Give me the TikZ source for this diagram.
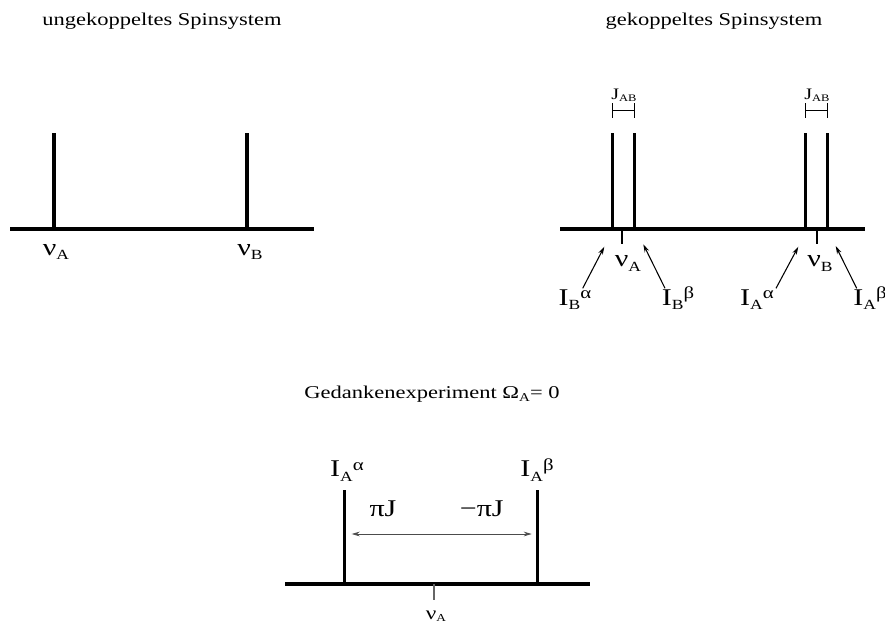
\documentclass[tikz,border=0pt]{standalone}
\usepackage{fontspec}
\setmainfont[FakeStretch=1.25]{Liberation Serif}
\usetikzlibrary{arrows.meta}
\newcommand\subsc[1]{\raisebox{-0.45ex}{\fontsize{10.5}{10.5}\selectfont #1}}
\newcommand\supsc[1]{\raisebox{0.6ex}{\fontsize{12.5}{12.5}\selectfont #1}}
\tikzset{
  axisline/.style={line width=3pt},
  peakline/.style={line width=2.3pt},
  thinline/.style={line width=0.8pt},
  titletext/.style={font=\fontsize{13.5}{16}\selectfont, anchor=base, inner sep=0pt},
  labeltext/.style={font=\fontsize{18}{20}\selectfont, anchor=base, inner sep=0pt},
  smalllabel/.style={font=\fontsize{12}{14}\selectfont, anchor=base, inner sep=0pt},
  ptr/.style={thinline, -{Stealth[length=6pt,width=3.5pt]}},
}
\begin{document}
\begin{tikzpicture}[x=0.75pt,y=-0.75pt]
\useasboundingbox (0,0) rectangle (885,624);
% ---------------- left: uncoupled
\node[titletext] (t1) at (162,26) {ungekoppeltes Spinsystem};
\coordinate (l0) at (10,229);
\coordinate (l1) at (314,229);
\draw[axisline] (l0) -- (l1);
\coordinate (pa) at (54,229);
\coordinate (pat) at (54,133);
\coordinate (pb) at (247,229);
\coordinate (pbt) at (247,133);
\draw[peakline] (pa) -- (pat);
\draw[peakline] (pb) -- (pbt);
\node[labeltext] (nuA1) at (56,255) {ν\subsc{A}};
\node[labeltext] (nuB1) at (250,255) {ν\subsc{B}};
% ---------------- right: coupled
\node[titletext] (t2) at (714,26) {gekoppeltes Spinsystem};
\coordinate (r0) at (560,229);
\coordinate (r1) at (865,229);
\draw[axisline] (r0) -- (r1);
\foreach \x/\n in {612.3/p1,634.3/p2,805.7/p3,827.3/p4}{
  \coordinate (\n b) at (\x,229);
  \coordinate (\n t) at (\x,132.7);
  \draw[peakline] (\n b) -- (\n t);
}
\coordinate (tA) at (622.3,229);
\coordinate (tAe) at (622.3,243.5);
\coordinate (tB) at (816.7,229);
\coordinate (tBe) at (816.7,243.5);
\draw[line width=1.6pt] (tA) -- (tAe);
\draw[line width=1.6pt] (tB) -- (tBe);
% J brackets
\coordinate (j1l) at (612.3,110.5);
\coordinate (j1r) at (634.3,110.5);
\coordinate (j2l) at (805.7,110.5);
\coordinate (j2r) at (827.3,110.5);
\draw[thinline] (j1l) -- (j1r);
\draw[thinline] (j2l) -- (j2r);
\draw[thinline] ([yshift=5.5pt]j1l) -- ([yshift=-5.5pt]j1l);
\draw[thinline] ([yshift=5.5pt]j1r) -- ([yshift=-5.5pt]j1r);
\draw[thinline] ([yshift=5.5pt]j2l) -- ([yshift=-5.5pt]j2l);
\draw[thinline] ([yshift=5.5pt]j2r) -- ([yshift=-5.5pt]j2r);
\node[smalllabel] (J1) at (624,100) {J\raisebox{-0.25ex}{\fontsize{7.5}{8}\selectfont AB}};
\node[smalllabel] (J2) at (817,100) {J\raisebox{-0.25ex}{\fontsize{7.5}{8}\selectfont AB}};
\node[labeltext] (nuA2) at (628,266.5) {ν\subsc{A}};
\node[labeltext] (nuB2) at (820,266.5) {ν\subsc{B}};
% arrows with labels
\node[labeltext] (IBa) at (575,305) {I\subsc{B}\supsc{α}};
\node[labeltext] (IBb) at (678,305) {I\subsc{B}\supsc{β}};
\node[labeltext] (IAa) at (757,305) {I\subsc{A}\supsc{α}};
\node[labeltext] (IAb) at (870,305) {I\subsc{A}\supsc{β}};
\coordinate (aBa0) at (582.7,288.3);
\coordinate (aBa1) at (604.3,246.7);
\coordinate (aBb0) at (665,288.3);
\coordinate (aBb1) at (643.3,244.3);
\coordinate (aAa0) at (776,288.3);
\coordinate (aAa1) at (798.3,246.7);
\coordinate (aAb0) at (856.7,288.3);
\coordinate (aAb1) at (835.7,246);
\draw[ptr] (aBa0) -- (aBa1);
\draw[ptr] (aBb0) -- (aBb1);
\draw[ptr] (aAa0) -- (aAa1);
\draw[ptr] (aAb0) -- (aAb1);
% ---------------- bottom: thought experiment
\node[titletext] (t3) at (432,398) {Gedankenexperiment Ω\raisebox{-0.4ex}{\fontsize{9}{9}\selectfont A}= 0};
\coordinate (b0) at (285,584.3);
\coordinate (b1) at (590,584.3);
\draw[axisline] (b0) -- (b1);
\coordinate (q1b) at (344.3,584.3);
\coordinate (q1t) at (344.3,490);
\coordinate (q2b) at (537.7,584.3);
\coordinate (q2t) at (537.7,490);
\draw[peakline] (q1b) -- (q1t);
\draw[peakline] (q2b) -- (q2t);
\coordinate (tc) at (434,584.3);
\coordinate (tce) at (434,600);
\draw[line width=0.9pt, black!60] (tc) -- (tce);
\coordinate (dl) at (351.7,534);
\coordinate (dr) at (531.7,534);
\draw[line width=0.6pt, black!70, {Stealth[length=6pt,width=3.5pt]}-{Stealth[length=6pt,width=3.5pt]}] (dl) -- (dr);
\node[labeltext] (piJ) at (383,516.7) {πJ};
\node[labeltext] (mpiJ) at (481.7,516.7) {−πJ};
\node[labeltext] (IAa3) at (347,476.7) {I\subsc{A}\supsc{α}};
\node[labeltext] (IAb3) at (537,476.7) {I\subsc{A}\supsc{β}};
\node[font=\fontsize{14}{16}\selectfont, anchor=base, inner sep=0pt] (nuA3) at (436,619) {ν\raisebox{-0.3ex}{\fontsize{8}{8}\selectfont A}};
\end{tikzpicture}
\end{document}
